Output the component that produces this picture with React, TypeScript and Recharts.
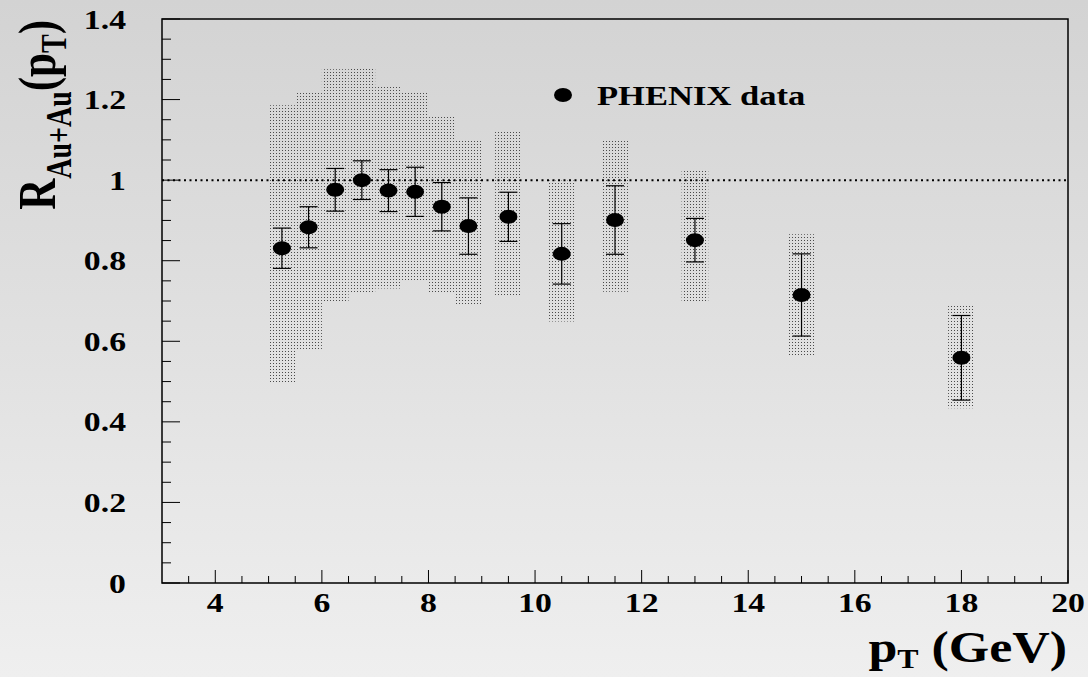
import React from 'react';
import {
  ComposedChart,
  Scatter,
  ErrorBar,
  XAxis,
  YAxis,
  ReferenceArea,
  ReferenceLine,
  Legend,
} from 'recharts';

// Nuclear modification factor vs transverse momentum
const PT = [5.25, 5.75, 6.25, 6.75, 7.25, 7.75, 8.25, 8.75, 9.5, 10.5, 11.5, 13, 15, 18];
const RAA = [0.831, 0.883, 0.976, 1.0, 0.974, 0.971, 0.934, 0.886, 0.909, 0.817, 0.901, 0.851, 0.715, 0.559];
const STAT_ERR = [0.05, 0.051, 0.053, 0.048, 0.052, 0.061, 0.06, 0.07, 0.061, 0.075, 0.085, 0.054, 0.102, 0.105];
// systematic band edges per point
const SYS_HI = [1.186, 1.218, 1.275, 1.278, 1.236, 1.218, 1.159, 1.102, 1.12, 0.999, 1.102, 1.024, 0.866, 0.688];
const SYS_LO = [0.496, 0.58, 0.697, 0.721, 0.731, 0.748, 0.721, 0.69, 0.715, 0.649, 0.723, 0.698, 0.562, 0.434];
const BIN_HALF = 0.25;

const X_MAJOR = [4, 6, 8, 10, 12, 14, 16, 18, 20];
const Y_MAJOR = [0, 0.2, 0.4, 0.6, 0.8, 1, 1.2, 1.4];
const X_DOMAIN: [number, number] = [3, 20];
const Y_DOMAIN: [number, number] = [0, 1.4];

const xTicks = Array.from({ length: 34 }, (_, i) => 3.5 + i * 0.5);
const yTicks = Array.from({ length: 29 }, (_, i) => Math.round(i * 5) / 100);

const points = PT.map((pt, i) => ({ pt, raa: RAA[i], err: STAT_ERR[i] }));

const FONT = "'Liberation Serif', 'Times New Roman', serif";
const STRETCH = 1.25;

const isMajorX = (v: number) => X_MAJOR.some((m) => Math.abs(m - v) < 1e-6);
const isMajorY = (v: number) => Y_MAJOR.some((m) => Math.abs(m - v) < 1e-6);

function XTick({ x, y, payload }: any) {
  const major = isMajorX(payload.value);
  return (
    <g>
      <line x1={x} x2={x} y1={y} y2={y - (major ? 13 : 7)} stroke="#000" strokeWidth={1} />
      {major && (
        <text
          transform={`translate(${x},${y + 29}) scale(${STRETCH},1)`}
          textAnchor="middle"
          fontFamily={FONT}
          fontWeight="bold"
          fontSize={27}
          fill="#000"
        >
          {payload.value}
        </text>
      )}
    </g>
  );
}

function YTick({ x, y, payload }: any) {
  const major = isMajorY(payload.value);
  return (
    <g>
      <line x1={x} x2={x + (major ? 18 : 9)} y1={y} y2={y} stroke="#000" strokeWidth={1} />
      {major && (
        <text
          transform={`translate(${x - 36},${y + 9.5}) scale(${STRETCH},1)`}
          textAnchor="end"
          fontFamily={FONT}
          fontWeight="bold"
          fontSize={27}
          fill="#000"
        >
          {payload.value}
        </text>
      )}
    </g>
  );
}

function XTitle({ viewBox }: any) {
  const { x, y, width } = viewBox;
  return (
    <text
      transform={`translate(${x + width - 1},${y + 79}) scale(1.18,1)`}
      textAnchor="end"
      fontFamily={FONT}
      fontWeight="bold"
      fontSize={44}
      fill="#000"
    >
      p
      <tspan fontSize={27} dy={6}>T</tspan>
      <tspan fontSize={44} dy={-6}> (GeV)</tspan>
    </text>
  );
}

function YTitle({ viewBox }: any) {
  const { y } = viewBox;
  return (
    <text
      transform={`translate(55,${y + 1}) scale(${STRETCH},1) rotate(-90)`}
      textAnchor="end"
      fontFamily={FONT}
      fontWeight="bold"
      fontSize={43}
      fill="#000"
    >
      R
      <tspan fontSize={28} dy={13}>Au+Au</tspan>
      <tspan fontSize={43} dy={-13}>(p</tspan>
      <tspan fontSize={28} dy={9}>T</tspan>
      <tspan fontSize={43} dy={-9}>)</tspan>
    </text>
  );
}

function Dot({ cx, cy }: any) {
  return <ellipse cx={cx} cy={cy} rx={9} ry={7} fill="#000" />;
}

function LegendBox() {
  return (
    <svg width={260} height={40} style={{ display: 'block', overflow: 'visible' }}>
      <ellipse cx={10} cy={20} rx={9} ry={7} fill="#000" />
      <text
        transform="translate(44,30) scale(1.28,1)"
        fontFamily={FONT}
        fontWeight="bold"
        fontSize={27}
        fill="#000"
      >
        PHENIX data
      </text>
    </svg>
  );
}

export default function App() {
  return (
    <div
      style={{
        position: 'absolute',
        left: 0,
        top: 0,
        width: 1088,
        height: 677,
        background: 'linear-gradient(180deg, #d3d3d3 0%, #e2e2e2 55%, #efefef 100%)',
      }}
    >
      <svg width={0} height={0} style={{ position: 'absolute' }}>
        <defs>
          <pattern id="stipple" width={3} height={3} patternUnits="userSpaceOnUse">
            <rect x={0} y={0} width={1} height={1} fill="#4a4a4a" />
          </pattern>
        </defs>
      </svg>
      <ComposedChart
        width={1088}
        height={677}
        data={points}
        margin={{ top: 19, right: 20, bottom: 0, left: 0 }}
      >
        <XAxis
          dataKey="pt"
          type="number"
          domain={X_DOMAIN}
          ticks={xTicks}
          interval={0}
          tickSize={0}
          tickMargin={0}
          tick={<XTick />}
          axisLine={false}
          tickLine={false}
          height={94}
          allowDataOverflow
          label={{ content: (p: any) => <XTitle {...p} /> }}
        />
        <YAxis
          type="number"
          domain={Y_DOMAIN}
          ticks={yTicks}
          interval={0}
          tickSize={0}
          tickMargin={0}
          tick={<YTick />}
          axisLine={false}
          tickLine={false}
          width={162}
          allowDataOverflow
          label={{ content: (p: any) => <YTitle {...p} /> }}
        />
        {PT.map((pt, i) => (
          <ReferenceArea
            key={`sys-${i}`}
            x1={pt - BIN_HALF}
            x2={pt + BIN_HALF}
            y1={SYS_LO[i]}
            y2={SYS_HI[i]}
            fill="url(#stipple)"
            fillOpacity={1}
            stroke="none"
            ifOverflow="visible"
          />
        ))}
        <ReferenceLine y={1} stroke="#000" strokeWidth={2} strokeDasharray="2 3.5" />
        <ReferenceArea
          x1={X_DOMAIN[0]}
          x2={X_DOMAIN[1]}
          y1={Y_DOMAIN[0]}
          y2={Y_DOMAIN[1]}
          fill="none"
          stroke="#000"
          strokeWidth={1.5}
          ifOverflow="visible"
        />
        <Scatter
          name="PHENIX data"
          dataKey="raa"
          fill="#000"
          shape={<Dot />}
          isAnimationActive={false}
        >
          <ErrorBar dataKey="err" direction="y" width={9} stroke="#000" strokeWidth={1.2} />
        </Scatter>
        <Legend
          layout="horizontal"
          verticalAlign="middle"
          align="center"
          content={() => <LegendBox />}
          wrapperStyle={{ position: 'absolute', left: 553, top: 75, width: 260, height: 40 }}
        />
      </ComposedChart>
    </div>
  );
}
